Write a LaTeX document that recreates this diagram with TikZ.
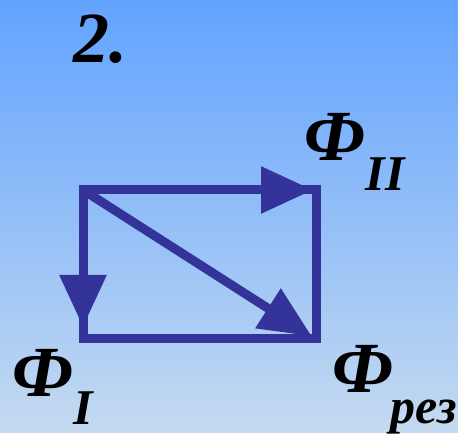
\documentclass[tikz,border=0pt]{standalone}
\usepackage{fontspec}
\setmainfont{Liberation Serif}
\usetikzlibrary{arrows.meta, positioning}

\definecolor{bgtop}{RGB}{98,163,255}
\definecolor{bgbot}{RGB}{196,218,240}
\definecolor{vecblue}{RGB}{51,51,153}

\begin{document}
\begin{tikzpicture}[
        x=1pt, y=-1pt,
        every node/.style={inner sep=0pt, font=\bfseries\itshape},
        lbl/.style={anchor=base west, font=\bfseries\itshape\fontsize{72}{80}\selectfont},
        sub/.style={anchor=base west, font=\bfseries\itshape\fontsize{50}{56}\selectfont},
        vec/.style={draw=vecblue, line width=9pt,
            -{Triangle[length=52pt, width=45pt]}} % big flat heads
    ]
        % Background
        \shade[top color=bgtop, bottom color=bgbot] (0,0) rectangle (458,432);

        % Corners of the box
        \coordinate (tl) at (83,190);
        \coordinate (tr) at (316,190);
        \coordinate (bl) at (83,339);
        \coordinate (br) at (316,339);

        % Frame
        \draw[vecblue, line width=9pt] (tl) rectangle (br);

        % Flux vectors
        \draw[vec, shorten >=3pt]  (tl) -- (tr);
        \draw[vec, shorten >=12pt] (tl) -- (bl);
        \draw[vec, shorten >=5pt]  (tl) -- (br);

        % Labels
        \node[lbl] (num) at (73,63) {2.};

        \node[lbl] (fII) at (304,161) {Ф};
        \node[sub] (sII) at ([yshift=-30pt]fII.base east) {II};

        \node[lbl] (fI) at (12,396) {Ф};
        \node[sub] (sI) at ([yshift=-28pt]fI.base east) {I};

        \node[lbl] (fres) at (332,392) {Ф};
        \node[sub] (sres) at ([yshift=-31pt,xshift=-3pt]fres.base east) {рез};

    \end{tikzpicture}
\end{document}
